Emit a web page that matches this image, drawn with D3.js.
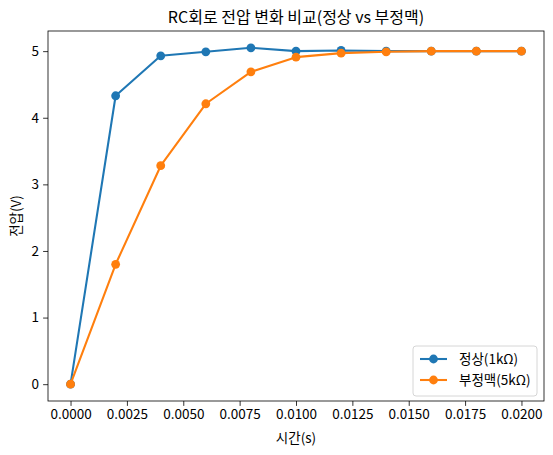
<!DOCTYPE html>
<html>
<head>
<meta charset="utf-8">
<script src="https://cdn.jsdelivr.net/npm/d3@7"></script>
<style>
  body { margin: 0; background: #fff; }
  text { font-family: "Noto Sans CJK KR", "Noto Sans", sans-serif; fill: #000; }
</style>
</head>
<body>
<svg class="chart"></svg>
<script>
var width = 553,
    height = 455;

// time points (s)
var times = [0, 0.002, 0.004, 0.006, 0.008, 0.010, 0.012, 0.014, 0.016, 0.018, 0.020];
var normalV = [0, 4.33, 4.93, 4.99, 5.05, 5.00, 5.01, 5.00, 5.00, 5.00, 5.00];
var arrhythmiaV = [0, 1.80, 3.28, 4.21, 4.69, 4.91, 4.97, 4.99, 5.00, 5.00, 5.00];
var seriesNames = ["정상(1kΩ)", "부정맥(5kΩ)"];
var seriesColors = ["#1f77b4", "#ff7f0e"];
var xTicks = [0, 0.0025, 0.005, 0.0075, 0.01, 0.0125, 0.015, 0.0175, 0.02];
var yTicks = [0, 1, 2, 3, 4, 5];

var margin = {left: 48, top: 31, right: 9, bottom: 54};

var svg = d3.select(".chart")
            .attr("width", width)
            .attr("height", height);

var x = d3.scaleLinear()
          .domain([-0.001, 0.021])
          .range([margin.left, width - margin.right]);

var y = d3.scaleLinear()
          .domain([-0.2525, 5.3025])
          .range([height - margin.bottom, margin.top]);

var series = [normalV, arrhythmiaV].map(function(vals, i){
  return {name: seriesNames[i], color: seriesColors[i],
          points: vals.map(function(v, j){ return {t: times[j], v: v}; })};
});

// axes
var xAxis = svg.append("g")
   .attr("transform", "translate(0," + (height - margin.bottom) + ")")
   .call(d3.axisBottom(x).tickValues(xTicks).tickFormat(d3.format(".4f")).tickSize(4.9).tickPadding(4));

var yAxis = svg.append("g")
   .attr("transform", "translate(" + margin.left + ",0)")
   .call(d3.axisLeft(y).tickValues(yTicks).tickFormat(d3.format("d")).tickSize(4.9).tickPadding(4));

svg.selectAll(".domain").remove();
svg.selectAll(".tick line").attr("stroke", "#000").attr("stroke-width", 0.8);
svg.selectAll(".tick text").style("font-size", "13.5px").attr("fill", "#000");

// lines + markers
var line = d3.line()
  .x(function(d){ return x(d.t); })
  .y(function(d){ return y(d.v); });

series.forEach(function(s){
  svg.append("path")
     .datum(s.points)
     .attr("d", line)
     .attr("fill", "none")
     .attr("stroke", s.color)
     .attr("stroke-width", 2.08)
     .attr("stroke-linejoin", "round");

  svg.selectAll(null).data(s.points).enter()
     .append("circle")
     .attr("cx", function(d){ return x(d.t); })
     .attr("cy", function(d){ return y(d.v); })
     .attr("r", 4.4)
     .attr("fill", s.color);
});

// frame
svg.append("rect")
   .attr("x", margin.left)
   .attr("y", margin.top)
   .attr("width", width - margin.left - margin.right)
   .attr("height", height - margin.top - margin.bottom)
   .attr("fill", "none")
   .attr("stroke", "#000")
   .attr("stroke-width", 0.8);

// titles
svg.append("text")
   .attr("x", (margin.left + width - margin.right) / 2)
   .attr("y", 23)
   .attr("text-anchor", "middle")
   .style("font-size", "16px")
   .text("RC회로 전압 변화 비교(정상 vs 부정맥)");

svg.append("text")
   .attr("x", (margin.left + width - margin.right) / 2)
   .attr("y", 443)
   .attr("text-anchor", "middle")
   .style("font-size", "13.5px")
   .text("시간(s)");

svg.append("text")
   .attr("transform", "translate(21," + ((margin.top + height - margin.bottom) / 2) + ") rotate(-90)")
   .attr("text-anchor", "middle")
   .style("font-size", "13.5px")
   .text("전압(V)");

// legend
var lg = svg.append("g").attr("transform", "translate(413,346)");
lg.append("rect")
  .attr("width", 124)
  .attr("height", 50)
  .attr("rx", 3)
  .attr("fill", "#fff")
  .attr("fill-opacity", 0.8)
  .attr("stroke", "#ccc")
  .attr("stroke-width", 0.8);

series.forEach(function(s, i){
  var g = lg.append("g").attr("transform", "translate(0," + (13 + i * 21) + ")");
  g.append("line").attr("x1", 7).attr("x2", 34).attr("stroke", s.color).attr("stroke-width", 2.08);
  g.append("circle").attr("cx", 20.5).attr("r", 4.4).attr("fill", s.color);
  g.append("text").attr("x", 46).attr("dy", "0.35em").style("font-size", "13.5px").text(s.name);
});
</script>
</body>
</html>
